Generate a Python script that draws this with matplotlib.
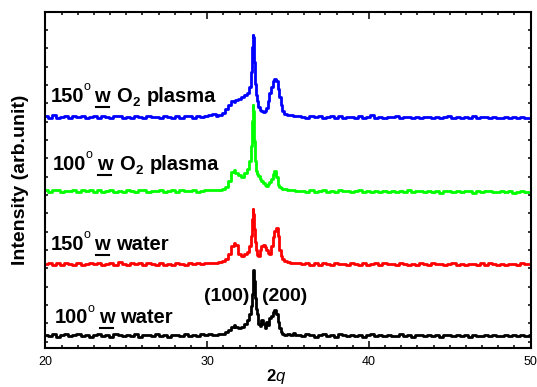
import numpy as np
import matplotlib.pyplot as plt
from matplotlib.lines import Line2D

plt.rcParams['font.family'] = ['Liberation Sans', 'DejaVu Sans']
plt.rcParams['mathtext.fontset'] = 'custom'
plt.rcParams['mathtext.bf'] = 'Liberation Sans:bold'
plt.rcParams['mathtext.it'] = 'Liberation Sans:italic'

# 2theta (deg) of the peak region, shared by all four scans
tt_peak = [30.6, 30.8, 31.0, 31.2, 31.4, 31.6, 31.7, 31.8, 32.0, 32.2, 32.4, 32.55,
           32.65, 32.72, 32.78, 32.83, 32.87, 32.91, 32.96, 33.02, 33.1, 33.2, 33.3,
           33.4, 33.5, 33.6, 33.7, 33.8, 33.9, 34.0, 34.1, 34.2, 34.3, 34.4, 34.5,
           34.6, 34.7, 34.85, 35.0, 35.2, 35.4, 35.5]

# intensity above each scan's own baseline (arb. units)
black_peak = [1, 1.5, 2, 4, 6, 9, 11, 9, 8, 9, 12, 16, 22, 30, 42, 60, 66, 55, 38, 27,
              22, 12, 10, 16, 12, 8, 14, 11, 18, 20, 24, 26, 22, 14, 8, 4, 2, 1, 1.5,
              0.5, 2.5, 1]
red_peak = [1, 2, 3, 5, 10, 18, 21, 19, 10, 8, 10, 12, 18, 28, 45, 55, 50, 35, 22, 14,
            9, 8, 14, 18, 19, 17, 14, 11, 10, 18, 27, 33, 36, 28, 14, 8, 5, 3, 2, 1.5,
            1, 1]
green_peak = [1, 1.5, 2, 4, 10, 19, 21, 18, 16, 14, 18, 22, 30, 45, 70, 86, 80, 50, 30,
              20, 17, 15, 12, 10, 8, 6, 5, 7, 9, 12, 17, 20, 14, 6, 4, 3, 2, 2, 1.5, 1,
              1.5, 0.5]
blue_peak = [1, 2, 4, 8, 12, 16, 15, 17, 18, 20, 22, 24, 30, 45, 70, 82, 80, 55, 33, 22,
             16, 10, 7, 6, 5, 6, 9, 16, 24, 30, 36, 38, 36, 28, 20, 12, 6, 3, 2.5, 2,
             1.5, 1]

# baseline readings, 20 -> 30.45 deg and 35.7 -> 50 deg
black_low = [0.8, -0.5, 1.5, -1.0, 0.6, 1.2, -0.8, 0.3, 1.8, -0.6, 0.9, -1.2, 0.4, 1.3,
             -0.4, 0.7, -0.9, 1.6, 0.2, -0.7, 1.0, -0.3, 1.4, -1.1, 0.5, 0.9, -0.6, 1.2,
             -0.2, 0.6, -1.0, 1.1, 0.3, -0.5, 1.5, 0.0, 0.8, -0.4, 1.7, 0.6, 1.2, 0.9]
black_high = [1.0, -0.6, 1.4, 0.2, -0.9, 0.8, 2.0, -0.4, 0.6, -1.0, 1.2, 0.3, -0.7, 0.9,
              -0.3, 1.1, -1.1, 0.5, 1.3, -0.5, 0.7, -0.8, 1.0, 0.1, -0.6, 1.2, -0.2, 0.6,
              -1.0, 0.9, 0.4, -0.7, 1.1, -0.3, 0.5, -0.9, 0.8, 0.2, -0.6, 1.0, -0.4, 0.6,
              -1.0, 0.7, 0.1, -0.5, 0.9, -0.8, 0.4, 0.0, -0.6, 0.8, -0.3, 0.5, -0.7, 0.3,
              -0.5, 0.4]
red_low = [0.5, 1.2, -0.7, 0.9, -1.1, 1.6, 0.2, -0.5, 1.0, -0.9, 0.6, 1.4, -0.3, 0.8,
           -1.2, 0.4, 1.1, -0.6, 1.7, 0.0, -0.8, 0.9, -0.2, 1.3, -1.0, 0.7, 0.3, -0.6,
           1.5, -0.4, 0.6, -1.1, 1.0, 0.2, -0.7, 1.2, -0.3, 0.8, 0.4, 1.1, 0.9, 1.3]
red_high = [0.9, 0.4, 1.2, -0.5, 0.8, -0.9, 1.1, 0.2, -0.6, 0.9, -0.3, 0.6, -1.0, 0.8,
            0.1, -0.5, 1.0, -0.8, 0.4, 0.7, -0.6, 1.2, -0.2, 0.5, -0.9, 0.8, 0.0, -0.4,
            0.6, -0.8, 1.0, 0.2, -0.5, 0.7, -0.3, 0.5, -0.9, 0.6, 1.5, -0.4, 0.3, -0.7,
            0.6, 0.1, -0.5, 0.8, -0.6, 1.4, 0.2, -0.4, 0.5, -0.7, 0.3, 0.6, -0.5, 0.9,
            -0.3, 0.4]
green_low = [1.0, -0.6, 0.8, 1.5, -0.9, 0.4, -0.3, 1.2, -1.0, 0.7, 0.2, 1.6, -0.5, 0.9,
             -1.2, 0.5, 1.1, -0.4, 0.3, -0.8, 1.3, 0.0, -0.6, 0.9, 1.4, -0.7, 0.6, -0.2,
             1.0, -1.1, 0.4, 0.8, -0.5, 1.2, -0.3, 0.6, 1.5, -0.8, 0.5, 0.9, 1.2, 0.8]
green_high = [0.6, 0.2, -0.5, 0.8, -0.9, 0.4, 1.0, -0.6, 0.3, -1.0, 0.7, -0.2, 0.5, -1.1,
              0.2, 0.8, -0.7, 0.0, -1.2, 0.6, -0.4, 0.3, -0.9, 0.5, -1.3, 0.1, -0.5, 0.7,
              -1.0, -0.2, 0.4, -1.2, 0.2, -0.6, 0.5, -1.4, -0.1, 0.3, -0.9, 0.6, -1.1,
              -0.3, 0.2, -1.5, 0.4, -0.7, -0.2, 0.5, -1.3, -0.4, 0.1, -1.0, 0.3, -1.4,
              -0.5, 0.2, -1.1, -0.6]
blue_low = [1.2, -0.4, 1.8, -1.0, 0.5, 1.4, -0.7, 0.9, -0.2, 1.6, -1.1, 0.3, 1.0, -0.6,
            1.3, 0.1, -0.9, 0.8, 1.5, -0.5, 0.4, -1.0, 1.1, 0.2, -0.7, 1.4, -0.3, 0.6,
            -1.2, 0.9, 0.3, -0.5, 1.2, -0.8, 0.7, 1.0, -0.4, 1.6, 0.5, 1.3, 2.0, 3.0]
blue_high = [1.0, 0.3, -0.6, 0.9, -0.2, 1.2, -0.8, 0.4, 0.7, -0.5, 1.1, -0.9, 0.2, 0.6,
             -0.4, 0.9, -1.0, 0.1, 2.2, -0.6, 0.3, -0.9, 0.5, -0.2, 0.8, -1.1, 0.0, 0.4,
             -0.7, 0.6, -1.0, -0.1, 0.5, -0.8, 0.3, -1.2, 0.2, 0.7, -0.6, -0.1, -1.0,
             0.4, -0.5, 0.9, -1.1, -0.2, 0.3, -0.8, 0.1, -1.3, -0.4, 0.2, -0.9, -0.3,
             -1.2, 0.0, -0.7, -0.9]

# vertical offsets of the stacked scans
offsets = [12, 83.5, 156.5, 230.5]
colors = ['#000000', '#ff0000', '#00ff00', '#0000ff']
scans = [(black_low, black_peak, black_high),
         (red_low, red_peak, red_high),
         (green_low, green_peak, green_high),
         (blue_low, blue_peak, blue_high)]
temps = ['100', '150', '100', '150']
media = ['water', 'water', 'plasma', 'plasma']
label_x = [20.58, 20.32, 20.47, 20.32]
label_y = [24.4, 97.7, 177.7, 246]
FS = 14.5

fig = plt.figure(figsize=(5.37, 3.87), dpi=100)
ax = fig.add_axes([0.0847, 0.1016, 0.9033, 0.8682])

for (low, peak, high), off, c in zip(scans, offsets, colors):
    x = np.concatenate([np.linspace(20, 30.45, len(low)), tt_peak,
                        np.linspace(35.7, 50, len(high))])
    y = np.concatenate([low, peak, high]) + off
    ax.plot(x, y, color=c, lw=2.0, drawstyle='steps-mid')

ax.set_xlim(20, 50)
ax.set_ylim(0, 336)
ax.set_xticks([20, 30, 40, 50])
ax.set_xticks(np.arange(20, 51, 1), minor=True)
ax.set_yticks(np.arange(336, 0, -18.33))
ax.set_yticklabels([])
ax.tick_params(which='both', direction='in', top=True, right=True, width=1.1)
ax.tick_params(axis='x', which='major', length=5, labelsize=9, pad=6)
ax.tick_params(axis='x', which='minor', length=2.5)
ax.tick_params(axis='y', length=2.5)
for s in ax.spines.values():
    s.set_linewidth(1.5)

ax.set_ylabel('Intensity (arb.unit)', fontsize=14, fontweight='bold')
ax.yaxis.set_label_coords(-0.034, 0.5)
fig.text(276 / 537, 6 / 387, r'$\mathbf{2}\mathit{q}$', fontsize=12, ha='center',
         va='baseline')


def sample_label(x, y, temp, medium):
    bold = dict(fontsize=FS, fontweight='bold', textcoords='offset points', va='bottom')
    base = ax.text(x, y, temp, fontsize=FS, fontweight='bold', va='baseline')
    deg = ax.annotate('o', xy=(1, 1), xycoords=base, xytext=(-0.5, 4),
                      textcoords='offset points', fontsize=9, va='top')
    w = ax.annotate('w', xy=(1, 0), xycoords=(deg, base), xytext=(3, 0), **bold)
    if medium == 'plasma':
        o = ax.annotate('O', xy=(1, 0), xycoords=w, xytext=(4.5, 0), **bold)
        sub = ax.annotate('2', xy=(1, 0), xycoords=o, xytext=(0.5, -2.5),
                          textcoords='offset points', fontsize=9.5, fontweight='bold',
                          va='bottom')
        ax.annotate('plasma', xy=(1, 0), xycoords=(sub, o), xytext=(5, 0), **bold)
    else:
        ax.annotate('water', xy=(1, 0), xycoords=w, xytext=(4.5, 0), **bold)
    return w


underlined = [sample_label(lx, ly, t, m)
              for lx, ly, t, m in zip(label_x, label_y, temps, media)]

ax.text(29.83, 46.7, '(100)', fontsize=14, fontweight='bold')
ax.text(33.39, 46.7, '(200)', fontsize=14, fontweight='bold')

fig.canvas.draw()
inv = fig.transFigure.inverted()
for w in underlined:
    bb = w.get_window_extent()
    (x0, y0), (x1, _) = inv.transform([(bb.x0 + 1, bb.y0 - 1), (bb.x1 - 1, bb.y0 - 1)])
    fig.add_artist(Line2D([x0, x1], [y0, y0], transform=fig.transFigure,
                          color='black', lw=1.5))

fig.savefig('out.png', dpi=100)
